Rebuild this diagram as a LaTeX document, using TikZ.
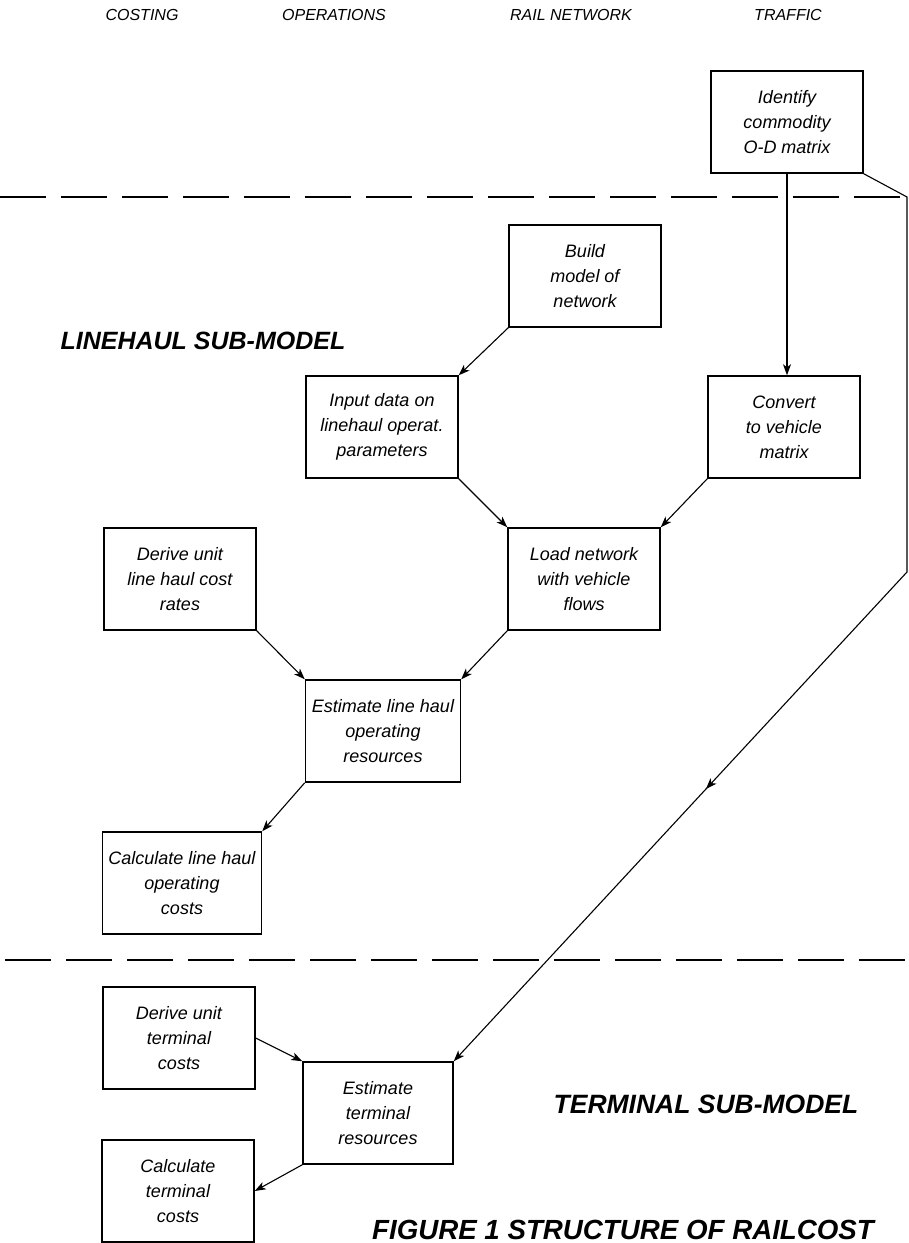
\documentclass[tikz,border=0pt]{standalone}
\usepackage{fontspec}
\setmainfont{Liberation Sans}
\usetikzlibrary{arrows.meta,decorations.markings}

\begin{document}
\begin{tikzpicture}[
    x=1pt, y=-1pt,
    box/.style={rectangle, draw, line width=1.5pt, minimum width=152pt, minimum height=102pt,
        inner sep=2pt, align=center, font=\fontsize{18}{25}\selectfont\itshape},
    flow/.style={-{Stealth[length=11pt,width=8pt,inset=3pt]}, line width=1.1pt},
    divider/.style={line width=1.7pt, dash pattern=on 46pt off 15pt},
    heading/.style={font=\fontsize{16}{20}\selectfont\itshape},
    submodel/.style={font=\fontsize{25}{28}\selectfont\bfseries\itshape}
]
    \useasboundingbox (0,0) rectangle (909,1243);

    % Headings
    \node[heading] (hcost) at (142,15) {COSTING};
    \node[heading] (hops) at (334,15) {OPERATIONS};
    \node[heading] (hrail) at (571,15) {RAIL NETWORK};
    \node[heading] (htraf) at (788,15) {TRAFFIC};

    % Dividers
    \draw[divider] (0,197) -- (909,197);
    \draw[divider] (5,960) -- (909,960);

    % Nodes
    \node[box] (ident) at (787,122) {Identify\\commodity\\O-D matrix};
    \node[box] (build) at (585,276) {Build\\model of\\network};
    \node[box] (input) at (382,427) {Input data on\\linehaul operat.\\parameters};
    \node[box] (convert) at (784,427) {Convert\\to vehicle\\matrix};
    \node[box] (load) at (584,579) {Load network\\with vehicle\\flows};
    \node[box] (derivelh) at (180,579) {Derive unit\\line haul cost\\rates};
    \node[box, minimum width=155pt] (estlh) at (383,731) {Estimate line haul\\operating\\resources};
    \node[box, minimum width=159pt] (calclh) at (182,883) {Calculate line haul\\operating\\costs};
    \node[box] (deriveterm) at (179,1038) {Derive unit\\terminal\\costs};
    \node[box, minimum width=150pt] (estterm) at (378,1113) {Estimate\\terminal\\resources};
    \node[box] (calcterm) at (178,1191) {Calculate\\terminal\\costs};

    % Labels
    \node[submodel] (linehaul) at (203,341) {LINEHAUL SUB-MODEL};
    \node[submodel, font=\fontsize{26.5}{28}\selectfont\bfseries\itshape] (terminal) at (706,1104) {TERMINAL SUB-MODEL};
    \node[submodel, font=\fontsize{27.7}{30}\selectfont\bfseries\itshape] (caption) at (623,1230) {FIGURE 1 STRUCTURE OF RAILCOST};

    % Bends
    \coordinate (bendA) at (907,197);
    \coordinate (bendB) at (907,572);

    % Arrows
    \draw[flow] (build.south west) -- (input.north east);
    \draw[flow] (ident.south) -- (ident.south |- convert.north);
    \draw[flow] (input.south east) -- (load.north west);
    \draw[flow] (convert.south west) -- (load.north east);
    \draw[flow] (derivelh.south east) -- (estlh.north west);
    \draw[flow] (load.south west) -- (estlh.north east);
    \draw[flow] (estlh.south west) -- (calclh.north east);
    \draw[flow] (deriveterm.east) -- (estterm.north west);
    \draw[flow] (estterm.south west) -- (calcterm.east);
    \draw[flow, postaction={decorate}, decoration={markings,
        mark=at position 0.66 with {\arrow{Stealth[length=11pt,width=8pt,inset=3pt]}}}]
        (ident.south east) -- (bendA) -- (bendB) -- (estterm.north east);
\end{tikzpicture}
\end{document}
